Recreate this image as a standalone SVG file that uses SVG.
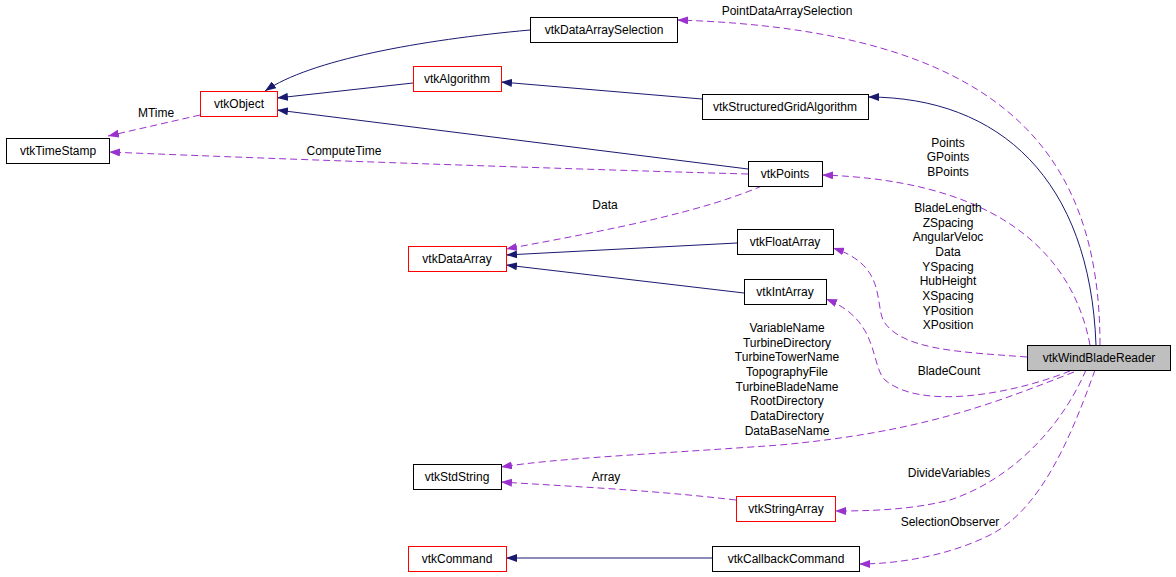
<svg xmlns="http://www.w3.org/2000/svg" width="1176" height="577" viewBox="0 0 1176 577">
<style>
text{font-family:"Liberation Sans",Arial,sans-serif;font-size:12px;fill:#000;text-anchor:middle}
.n rect{fill:#fff;stroke:#000;stroke-width:1}
.n.red rect{stroke:#ff0000}
.n.main rect{fill:#bfbfbf}
.inh{fill:none;stroke:#191970;stroke-width:1}
.use{fill:none;stroke:#9a32cd;stroke-width:1;stroke-dasharray:7,4}
</style>
<defs>
<marker id="ah" markerUnits="userSpaceOnUse" markerWidth="11" markerHeight="8" viewBox="0 0 11 8" refX="11" refY="4" orient="auto">
<path d="M0,0 L11,4 L0,8 z" fill="#191970"/>
</marker>
<marker id="ap" markerUnits="userSpaceOnUse" markerWidth="11" markerHeight="8" viewBox="0 0 11 8" refX="11" refY="4" orient="auto">
<path d="M0,0 L11,4 L0,8 z" fill="#9a32cd"/>
</marker>
</defs>
<rect width="1176" height="577" fill="#fff"/>
<g id="connectors">
<path class="inh" marker-end="url(#ah)" d="M530,30 C420,40 310,60 265,91"/>
<path class="inh" marker-end="url(#ah)" d="M413,83 L277,98"/>
<path class="inh" marker-end="url(#ah)" d="M702,99 L501,82"/>
<path class="inh" marker-end="url(#ah)" d="M748,169 L277,110"/>
<path class="inh" marker-end="url(#ah)" d="M1096,345 C1090,180 1000,97 868,97"/>
<path class="inh" marker-end="url(#ah)" d="M737,243 L506,255"/>
<path class="inh" marker-end="url(#ah)" d="M744,293 L506,265"/>
<path class="inh" marker-end="url(#ah)" d="M712,558 L506,558"/>
<path class="use" marker-end="url(#ap)" d="M1100,345 C1100,150 1000,30 677,20"/>
<path class="use" marker-end="url(#ap)" d="M200,115 L108,136"/>
<path class="use" marker-end="url(#ap)" d="M748,174 C600,170 300,160 109,152"/>
<path class="use" marker-end="url(#ap)" d="M1090,345 C1070,240 980,180 822,175"/>
<path class="use" marker-end="url(#ap)" d="M762,186 C700,212 620,228 506,249"/>
<path class="use" marker-end="url(#ap)" d="M1027,357 C960,352 900,350 883,320 C875,300 885,265 833,248"/>
<path class="use" marker-end="url(#ap)" d="M1070,371 C1010,395 920,410 885,380 C870,365 880,320 826,299"/>
<path class="use" marker-end="url(#ap)" d="M1074,372 C990,405 920,432 780,445 C640,455 560,458 501,467"/>
<path class="use" marker-end="url(#ap)" d="M736,500 C650,490 580,487 501,482"/>
<path class="use" marker-end="url(#ap)" d="M1086,370 C1060,430 1010,480 950,500 C910,510 870,511 835,511"/>
<path class="use" marker-end="url(#ap)" d="M1095,370 C1070,440 1040,510 990,535 C950,555 900,564 859,564"/>
</g>
<g id="labels">
<text x="787" y="15">PointDataArraySelection</text>
<text x="156" y="117">MTime</text>
<text x="344" y="155">ComputeTime</text>
<text x="948" y="147">Points</text>
<text x="948" y="161">GPoints</text>
<text x="948" y="176">BPoints</text>
<text x="605" y="209">Data</text>
<text x="948" y="212">BladeLength</text>
<text x="948" y="227">ZSpacing</text>
<text x="948" y="241">AngularVeloc</text>
<text x="948" y="256">Data</text>
<text x="948" y="271">YSpacing</text>
<text x="948" y="285">HubHeight</text>
<text x="948" y="300">XSpacing</text>
<text x="948" y="315">YPosition</text>
<text x="948" y="329">XPosition</text>
<text x="949" y="375">BladeCount</text>
<text x="787" y="332">VariableName</text>
<text x="787" y="347">TurbineDirectory</text>
<text x="787" y="361">TurbineTowerName</text>
<text x="787" y="376">TopographyFile</text>
<text x="787" y="391">TurbineBladeName</text>
<text x="787" y="405">RootDirectory</text>
<text x="787" y="420">DataDirectory</text>
<text x="787" y="435">DataBaseName</text>
<text x="606" y="481">Array</text>
<text x="949" y="477">DivideVariables</text>
<text x="950" y="526">SelectionObserver</text>
</g>
<g id="vtkDataArraySelection" class="n"><rect x="530.5" y="17.5" width="147" height="25"/><text x="604" y="34">vtkDataArraySelection</text></g>
<g id="vtkObject" class="n red"><rect x="200.5" y="91.5" width="77" height="25"/><text x="239" y="108">vtkObject</text></g>
<g id="vtkAlgorithm" class="n red"><rect x="413.5" y="66.5" width="88" height="25"/><text x="457" y="83">vtkAlgorithm</text></g>
<g id="vtkTimeStamp" class="n"><rect x="6.5" y="138.5" width="103" height="25"/><text x="58" y="155">vtkTimeStamp</text></g>
<g id="vtkStructuredGridAlgorithm" class="n"><rect x="702.5" y="94.5" width="166" height="25"/><text x="785" y="111">vtkStructuredGridAlgorithm</text></g>
<g id="vtkPoints" class="n"><rect x="748.5" y="161.5" width="74" height="25"/><text x="785" y="178">vtkPoints</text></g>
<g id="vtkDataArray" class="n red"><rect x="408.5" y="246.5" width="98" height="25"/><text x="457" y="263">vtkDataArray</text></g>
<g id="vtkFloatArray" class="n"><rect x="737.5" y="229.5" width="96" height="25"/><text x="785" y="246">vtkFloatArray</text></g>
<g id="vtkIntArray" class="n"><rect x="744.5" y="279.5" width="82" height="25"/><text x="785" y="296">vtkIntArray</text></g>
<g id="vtkWindBladeReader" class="n main"><rect x="1027.5" y="345.5" width="143" height="25"/><text x="1099" y="362">vtkWindBladeReader</text></g>
<g id="vtkStdString" class="n"><rect x="413.5" y="464.5" width="88" height="25"/><text x="457" y="481">vtkStdString</text></g>
<g id="vtkStringArray" class="n red"><rect x="736.5" y="496.5" width="99" height="25"/><text x="786" y="513">vtkStringArray</text></g>
<g id="vtkCommand" class="n red"><rect x="408.5" y="546.5" width="98" height="25"/><text x="457" y="563">vtkCommand</text></g>
<g id="vtkCallbackCommand" class="n"><rect x="712.5" y="546.5" width="147" height="25"/><text x="786" y="563">vtkCallbackCommand</text></g>
</svg>
